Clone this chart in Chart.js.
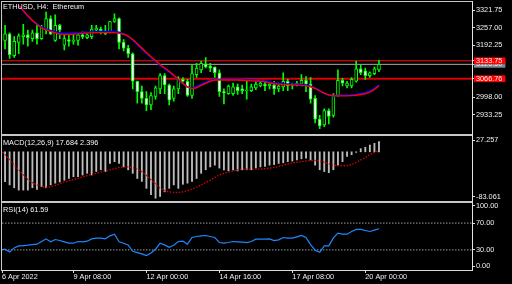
<!DOCTYPE html>
<html>
<head>
<meta charset="utf-8">
<script src="https://cdn.jsdelivr.net/npm/chart.js@4.4.1/dist/chart.umd.min.js"></script>
<style>
  html, body { margin: 0; padding: 0; background: #000; }
  #wrap { position: relative; width: 512px; height: 284px; overflow: hidden; background: #000;
          font-family: "Liberation Sans", Arial, sans-serif; }
  canvas { position: absolute; left: 0; pointer-events: none; }
  .ln { position: absolute; background: #c8c8c8; z-index: 5; }
  .txt { position: absolute; left: 3px; color: #f4f4f4; font-size: 7.3px; line-height: 9px; white-space: pre; z-index: 6; }
</style>
</head>
<body>
<div id="wrap">
  <canvas id="mainChart" width="512" height="135" style="top:0"></canvas>
  <canvas id="macdChart" width="512" height="76" style="top:130px"></canvas>
  <canvas id="rsiChart" width="512" height="88" style="top:196px"></canvas>

  <div class="ln" style="left:1px;top:1px;width:471px;height:1px"></div>
  <div class="ln" style="left:1px;top:1px;width:1px;height:270px"></div>
  <div class="ln" style="left:472px;top:1px;width:1px;height:270px;background:#e4e4e4"></div>
  <div class="ln" style="left:1px;top:134px;width:471px;height:2px"></div>
  <div class="ln" style="left:1px;top:201px;width:471px;height:2px"></div>

  <div class="txt" style="top:2px">ETHUSD, H4:  Ethereum</div>
  <div class="txt" style="top:138px">MACD(12,26,9) 17.684 2.396</div>
  <div class="txt" style="top:205px">RSI(14) 61.59</div>
</div>

<script>
// H4 candles, 6 Apr 16:00 -> 20 Apr 12:00
const opens = [3305.1,3209.6,3234.4,3153.0,3202.5,3223.7,3230.8,3216.7,3237.9,3216.7,
  3252.1,3291.0,3209.6,3266.2,3191.9,3213.1,3206.1,3209.6,3230.8,3220.2,
  3223.7,3248.5,3252.1,3234.4,3241.4,3280.4,3291.0,3202.5,3181.3,3160.1,
  3057.5,3018.5,2993.8,2969.0,3000.9,3029.2,3078.7,3043.3,2993.8,3029.2,
  3064.5,3057.5,3004.4,3082.2,3099.9,3121.2,3114.1,3110.5,3089.3,3018.5,
  3011.5,3011.5,3036.2,3029.2,3022.1,3022.1,3032.7,3039.8,3046.9,3039.8,
  3043.3,3029.2,3036.2,3057.5,3039.8,3043.3,3046.9,3061.0,3046.9,2993.8,
  2915.9,2894.7,2947.8,2930.1,3004.4,3061.0,3039.8,3039.8,3057.5,3103.5,
  3096.4,3078.7,3085.8,3099.9];
const highs = [3308.7,3266.2,3237.9,3223.7,3234.4,3269.7,3248.5,3248.5,3266.2,3266.2,
  3315.7,3301.6,3305.1,3269.7,3234.4,3230.8,3230.8,3232.0,3241.4,3234.4,
  3266.2,3266.2,3259.1,3266.2,3281.0,3308.7,3294.5,3213.1,3191.9,3163.6,
  3058.0,3039.8,3018.5,3015.0,3039.8,3085.8,3085.8,3046.9,3039.8,3075.2,
  3071.6,3064.5,3117.6,3124.7,3131.8,3145.9,3124.7,3111.0,3099.9,3029.2,
  3043.3,3050.4,3046.9,3043.3,3057.5,3046.9,3053.9,3057.5,3053.9,3050.4,
  3057.5,3046.9,3089.3,3064.5,3050.4,3057.5,3082.2,3075.2,3071.6,3004.4,
  2930.1,2954.9,2954.9,3011.5,3099.9,3068.1,3057.5,3071.6,3131.8,3117.6,
  3107.0,3092.9,3110.5,3135.3];
const lows = [3209.6,3177.8,3142.4,3145.9,3160.1,3195.4,3188.4,3206.1,3195.4,3213.1,
  3234.4,3230.8,3206.1,3216.7,3174.2,3188.4,3195.4,3191.9,3216.7,3216.7,
  3216.7,3241.4,3234.4,3230.8,3237.9,3276.8,3177.8,3170.7,3145.9,3029.2,
  2976.1,2976.1,2947.8,2951.3,2990.2,3011.5,3011.5,2969.0,2983.2,3011.5,
  3053.9,3000.9,2993.8,3071.6,3089.3,3107.0,3092.9,3071.6,3000.9,2972.5,
  3007.9,3004.4,3007.9,3011.5,2990.2,3018.5,3025.6,3036.2,3022.1,3029.2,
  3007.9,3018.5,3022.1,3022.1,3029.2,3039.8,3039.8,3018.5,2976.1,2901.8,
  2880.6,2887.6,2898.2,2923.0,3000.9,3039.8,3032.7,3032.7,3053.9,3082.2,
  3064.5,3071.6,3082.2,3092.9];
const closes = [3213.1,3234.4,3156.5,3206.1,3227.3,3230.8,3220.2,3237.9,3216.7,3259.1,
  3291.0,3234.4,3266.2,3248.5,3216.7,3206.1,3209.6,3230.8,3223.7,3230.8,
  3252.1,3255.6,3245.0,3245.0,3280.4,3291.0,3202.5,3181.3,3160.1,3057.5,
  3018.5,2993.8,2969.0,3004.4,3032.7,3078.7,3043.3,2986.7,3029.2,3064.5,
  3057.5,3004.4,3085.8,3107.0,3124.7,3110.5,3107.0,3089.3,3018.5,3015.0,
  3039.8,3036.2,3022.1,3022.1,3025.6,3036.2,3046.9,3050.4,3039.8,3046.9,
  3029.2,3039.8,3057.5,3039.8,3043.3,3050.4,3061.0,3046.9,2990.2,2915.9,
  2891.2,2947.8,2926.5,3004.4,3061.0,3050.4,3050.4,3064.5,3103.5,3089.3,
  3078.7,3089.3,3103.5,3120.5];

// moving averages (blue / red)
const maBlue = [3420,3402,3381,3361,3338,3318,3300,3284,3271,3259,
  3252,3247,3242,3238,3236,3236,3237,3238,3239,3240,
  3241,3242,3243,3243,3243,3243,3240,3235,3226,3211,
  3194,3177,3161,3146,3132,3117,3105,3092,3078,3062,
  3047,3036,3032,3037,3046,3054,3060,3065,3065,3065,
  3065,3065,3065,3064,3063,3062,3061,3060,3058,3055,
  3052,3050,3048,3047,3047,3046,3045,3043,3039,3032,
  3022,3012,3005,3004,3004,3005,3006,3007,3009,3012,
  3016,3022,3031,3044];
const maRed = [3425,3408,3387,3367,3342,3321,3302,3284,3270,3256,
  3249,3243,3238,3233,3232,3232,3233,3234,3236,3237,
  3238,3239,3239,3239,3239,3239,3236,3233,3226,3213,
  3197,3181,3165,3149,3135,3119,3107,3095,3080,3065,
  3049,3036,3030,3033,3042,3050,3057,3062,3062,3062,
  3062,3062,3062,3061,3060,3059,3058,3057,3055,3051,
  3048,3046,3045,3044,3044,3043,3042,3040,3037,3031,
  3022,3013,3006,3004,3003,3003,3003,3004,3005,3008,
  3011,3017,3027,3040];

// MACD(12,26,9)
const macdMain = [-45,-51.5,-57,-62,-66,-66,-66,-62,-65,-60,
  -62,-57,-54,-52,-49,-46,-43,-43,-40,-37,
  -40,-34,-31,-34,-20,-17,-20,-26,-31,-37,
  -46,-51,-63,-74,-80,-77,-69,-63,-57,-63,
  -56,-54,-51,-46,-37,-31,-26,-23,-28,-31,
  -33,-31,-33,-31,-31,-31,-28,-26,-25,-23,
  -22,-20,-19,-17,-16,-14,-12,-11,-14,-23,
  -31,-34,-36,-31,-23,-17,-8,-5,-1,5.4,
  7.8,11.7,14.7,17.684];
const macdSignal = [3,-5,-14,-23,-31,-40,-48,-53,-57,-60,
  -61,-60,-58,-55,-52,-50,-48,-46,-43,-41,
  -39,-37,-35,-33,-31,-29,-27,-26,-26,-27,
  -30,-34,-41,-48,-56,-63,-67,-69,-70,-70,
  -69,-67,-64,-61,-57,-53,-49,-44,-40,-37,
  -35,-33,-31,-30,-30,-30,-30,-30,-29,-28,
  -27,-25,-23,-21,-19,-18,-17,-16,-15,-15,
  -16,-18,-21,-23,-24,-24,-24,-22,-18,-14,
  -10,-5,-1,2.396];

// RSI(14)
const rsiValues = [30,31,27,33,36,36.5,37,38,38.5,42.5,
  46.5,42,45.5,44,42,40,40,42.5,42,43,
  46.5,47.5,47.5,46.5,51,53.5,42,40,37.5,28,
  26,24,21.5,25.5,31,40,37.5,34,37,42.5,
  43,38.5,48.5,50,51,51.5,50,48.5,41,40,
  41,42.5,42,41.5,41,42.5,46,46,46,46.5,
  44,45,48.5,47.5,47.5,49.5,51.5,48.5,38,29.5,
  26.5,36,36,48,55,53.5,53.5,57.5,60.5,60.5,
  59,57.5,59.5,61.59];

// axes
const timeTickIdx = [0, 16, 32, 48, 64, 80];
const timeTickLabels = ['6 Apr 2022', '9 Apr 08:00', '12 Apr 00:00', '14 Apr 16:00', '17 Apr 08:00', '20 Apr 00:00'];
const priceTicks = [3321.75, 3257.00, 3192.25, 2998.00, 2933.25];
const levelPrices = [3120.50, 3133.75, 3066.76];
const levelColors = ['#7c8794', '#ff0000', '#ff0000'];
const levelLineColors = ['#a8a8a8', '#ff1010', '#d80000'];
const levelLineWidths = [1, 1, 2];
const macdScaleLabels = ['27.257', '-83.061'];
const rsiTicks = [100, 70, 30, 0];
const rsiLevels = [70, 30];

const X_MIN = 0.33, X_MAX = 103.4;
const FONT = { family: '"Liberation Sans", Arial, sans-serif', size: 7.3 };
const AXIS_COL = '#dcdcdc';
const TEXT_COL = '#f0f0f0';
const idx = opens.map((_, i) => i);

Chart.defaults.font = FONT;

const common = {
  responsive: false,
  animation: false,
  events: [],
  plugins: { legend: { display: false }, tooltip: { enabled: false } }
};

function hiddenX() {
  return { type: 'linear', min: X_MIN, max: X_MAX, offset: false, display: false };
}

function rightGrid() {
  return { drawOnChartArea: false, tickLength: 3, color: AXIS_COL };
}

// main price chart
const levelSets = levelPrices.map((p, k) => ({
  type: 'line',
  data: [{ x: X_MIN, y: p }, { x: X_MAX, y: p }],
  borderColor: levelLineColors[k],
  borderWidth: levelLineWidths[k],
  pointRadius: 0,
  order: 6
}));

new Chart(document.getElementById('mainChart'), {
  type: 'bar',
  data: {
    datasets: [
      ...levelSets,
      {
        data: idx.map(i => ({ x: i, y: [lows[i], highs[i]] })),
        backgroundColor: '#00ff00',
        borderWidth: 0,
        barThickness: 1,
        grouped: false,
        order: 5
      },
      {
        data: idx.map(i => ({ x: i, y: [opens[i], closes[i]] })),
        backgroundColor: idx.map(i => closes[i] >= opens[i] ? '#000000' : '#ffffff'),
        borderColor: '#00ff00',
        borderWidth: 1,
        borderSkipped: false,
        minBarLength: 1,
        barThickness: 3,
        grouped: false,
        order: 4
      },
      {
        type: 'line',
        data: idx.map(i => ({ x: i, y: maBlue[i] })),
        borderColor: '#0000ff',
        borderWidth: 1.6,
        pointRadius: 0,
        order: 2
      },
      {
        type: 'line',
        data: idx.map(i => ({ x: i, y: maRed[i] })),
        borderColor: '#ff0000',
        borderWidth: 1.4,
        pointRadius: 0,
        order: 1
      }
    ]
  },
  options: {
    ...common,
    layout: { padding: { top: 2, bottom: 2, left: 2, right: 0 } },
    scales: {
      x: hiddenX(),
      y: {
        position: 'right',
        min: 2877.0,
        max: 3340.5,
        afterFit: s => { s.width = 40; },
        afterBuildTicks: s => {
          s.ticks = priceTicks.concat(levelPrices).map(v => ({ value: v }));
        },
        border: { display: false },
        grid: rightGrid(),
        ticks: {
          color: TEXT_COL,
          padding: 1,
          autoSkip: false,
          font: FONT,
          callback: v => v.toFixed(2),
          showLabelBackdrop: c => levelPrices.includes(c.tick.value),
          backdropColor: c => {
            const k = levelPrices.indexOf(c.tick.value);
            return k >= 0 ? levelColors[k] : 'rgba(0,0,0,0)';
          },
          backdropPadding: { left: 2, right: 3, top: -1, bottom: -1 }
        }
      }
    }
  }
});

// MACD panel
new Chart(document.getElementById('macdChart'), {
  type: 'bar',
  data: {
    datasets: [
      {
        type: 'line',
        data: idx.map(i => ({ x: i, y: macdSignal[i] })),
        borderColor: '#d80000',
        borderWidth: 1.3,
        borderDash: [1.5, 1.5],
        pointRadius: 0,
        order: 1
      },
      {
        data: idx.map(i => ({ x: i, y: macdMain[i] })),
        backgroundColor: '#bcbcbc',
        barThickness: 1.2,
        borderWidth: 0,
        grouped: false,
        order: 2
      }
    ]
  },
  options: {
    ...common,
    layout: { padding: { top: 6, bottom: 6, left: 2, right: 0 } },
    scales: {
      x: hiddenX(),
      y: {
        position: 'right',
        min: -83.061,
        max: 27.257,
        afterFit: s => { s.width = 40; },
        afterBuildTicks: s => {
          const k = (s.max - s.min) / 64;
          s.ticks = [{ value: s.max - 4 * k }, { value: s.min + 3.3 * k }];
        },
        border: { display: false },
        grid: rightGrid(),
        ticks: {
          color: TEXT_COL, padding: 1, autoSkip: false, font: FONT,
          callback: (v, i) => macdScaleLabels[i]
        }
      }
    }
  }
});

// RSI panel
new Chart(document.getElementById('rsiChart'), {
  type: 'line',
  data: {
    datasets: [
      ...rsiLevels.map(v => ({
        data: [{ x: X_MIN, y: v }, { x: X_MAX, y: v }],
        borderColor: '#9a9a9a',
        borderWidth: 1,
        borderDash: [1.5, 1.5],
        pointRadius: 0,
        order: 3
      })),
      {
        data: idx.map(i => ({ x: i, y: rsiValues[i] })),
        borderColor: '#1e88ff',
        borderWidth: 1.2,
        pointRadius: 0,
        order: 1
      }
    ]
  },
  options: {
    ...common,
    layout: { padding: { top: 7, bottom: 0, left: 2, right: 0 } },
    scales: {
      x: {
        type: 'linear',
        min: X_MIN,
        max: X_MAX,
        offset: false,
        afterFit: s => { s.height = 14; },
        afterBuildTicks: s => {
          s.ticks = timeTickIdx.map(v => ({ value: Math.max(v, s.min) }));
        },
        border: { display: true, color: AXIS_COL, width: 1 },
        grid: { drawOnChartArea: false, tickLength: 3, color: AXIS_COL },
        ticks: {
          color: TEXT_COL, padding: 0, autoSkip: false, maxRotation: 0, align: 'start', font: FONT,
          callback: (v, i) => timeTickLabels[i]
        }
      },
      y: {
        position: 'right',
        min: 0,
        max: 100,
        afterFit: s => { s.width = 40; },
        afterBuildTicks: s => {
          const k = 100 / 67;
          s.ticks = rsiTicks.map(v => ({ value: v === 100 ? v - 3 * k : (v === 0 ? v + 4 * k : v) }));
        },
        border: { display: false },
        grid: rightGrid(),
        ticks: {
          color: TEXT_COL, padding: 1, autoSkip: false, font: FONT,
          callback: (v, i) => rsiTicks[i].toFixed(2)
        }
      }
    }
  }
});
</script>
</body>
</html>
